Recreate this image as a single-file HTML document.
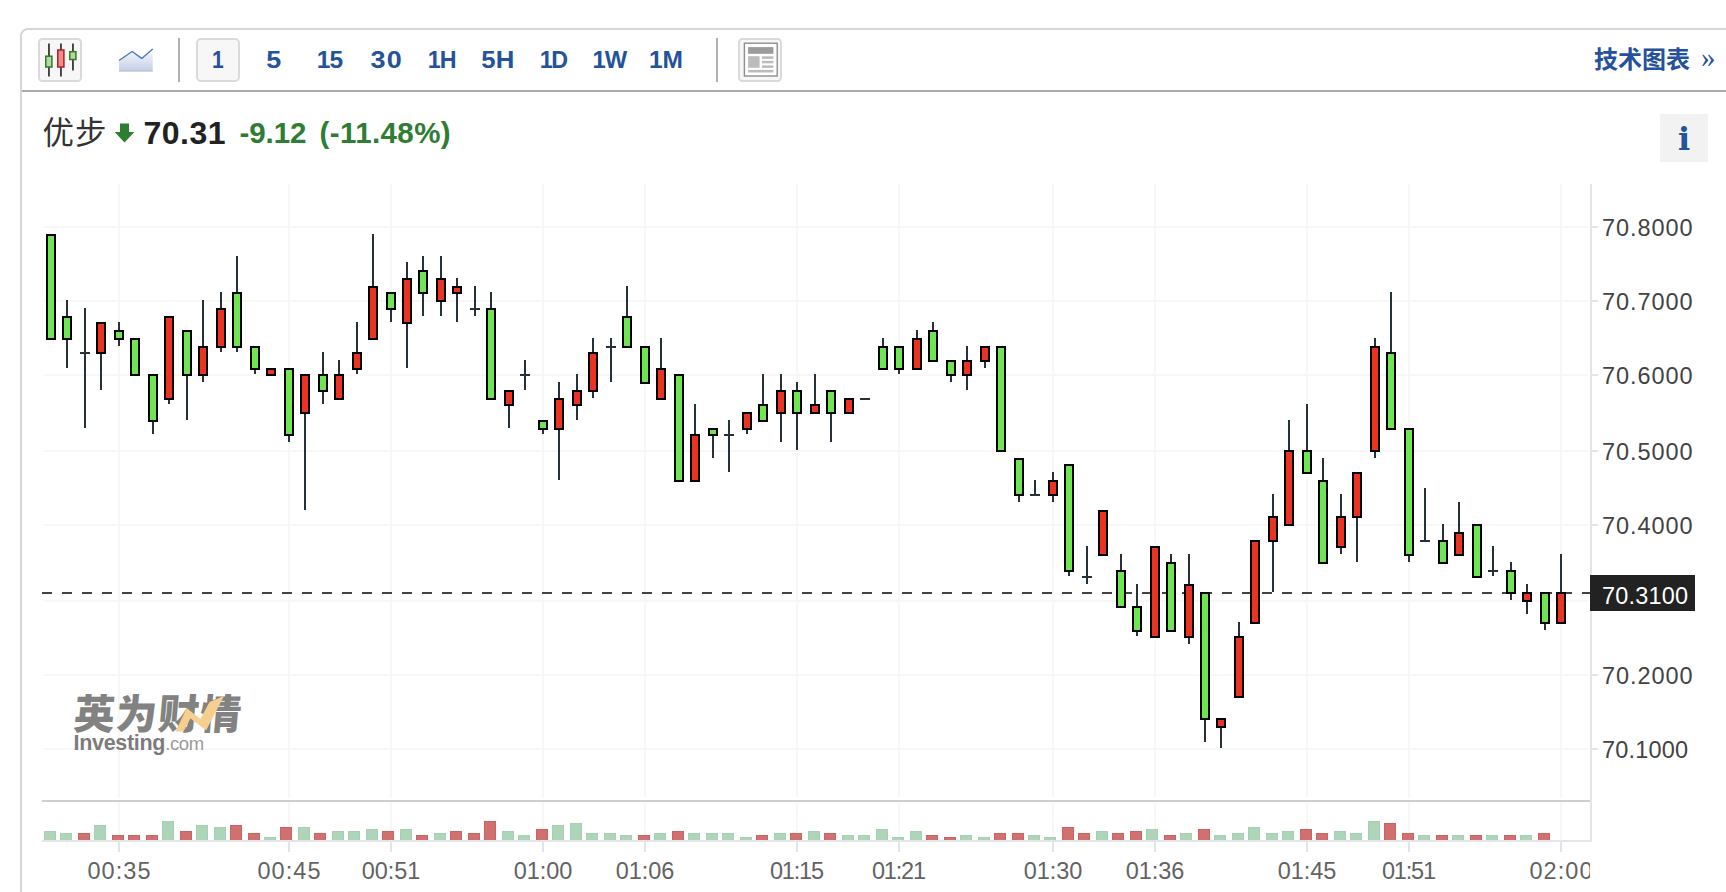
<!DOCTYPE html>
<html lang="zh-CN">
<head>
<meta charset="utf-8">
<title>优步 70.31</title>
<style>
html,body{margin:0;padding:0;background:#fff;}
body{width:1726px;height:892px;overflow:hidden;position:relative;font-family:"Liberation Sans","Noto Sans CJK SC",sans-serif;}
.frame{position:absolute;left:20px;top:28px;width:1800px;height:900px;border:2px solid #d6d6d6;border-radius:8px;box-sizing:border-box;}
.tline{position:absolute;left:22px;top:90px;width:1710px;height:2px;background:#a9a9a9;}
.btn{position:absolute;top:38px;width:44px;height:44px;box-sizing:border-box;border:2px solid #dadada;border-radius:4.5px;background:#f7f7f7;}
.vsep{position:absolute;top:38px;width:2px;height:44px;background:#b2b2b2;}
.tf{position:absolute;top:38px;width:44px;height:44px;line-height:43px;text-align:center;font-weight:bold;font-size:24.5px;color:#24529c;box-sizing:border-box;white-space:nowrap;}
.tf span{display:inline-block;}

.tf.on{border:2px solid #dadada;border-radius:5px;background:#f7f7f7;line-height:39px;}
.chart{position:absolute;left:0;top:0;}
.yl{position:absolute;left:1602px;height:30px;line-height:30px;font-size:23.5px;color:#434343;letter-spacing:0.95px;white-space:nowrap;}
.xl{position:absolute;top:856px;width:100px;height:30px;line-height:30px;text-align:center;font-size:23.5px;color:#636363;letter-spacing:1.1px;text-indent:1.1px;white-space:nowrap;}
.clip{position:absolute;left:0;top:0;width:1590px;height:892px;overflow:hidden;}
.plabel{position:absolute;left:1602px;top:581px;height:30px;line-height:30px;font-size:23.5px;color:#fff;letter-spacing:0.18px;white-space:nowrap;}
.hdr{position:absolute;left:42.5px;top:110.5px;height:44px;line-height:44px;white-space:nowrap;}
.hdr span{position:absolute;top:0;white-space:nowrap;}
.nm{left:0;font-size:31.5px;color:#333;letter-spacing:1px;}
.px{left:101px;font-size:32px;font-weight:bold;color:#222;letter-spacing:0.5px;}
.ch{left:197px;font-size:29.5px;font-weight:bold;color:#2f7d32;letter-spacing:-0.1px;}
.pc{left:277px;font-size:29.5px;font-weight:bold;color:#2f7d32;letter-spacing:0.4px;}
.tech{position:absolute;left:1594px;top:41px;height:40px;line-height:38px;font-size:24px;font-weight:bold;color:#24529c;white-space:nowrap;font-family:"Liberation Sans","Noto Sans CJK SC",sans-serif;}
.raq{position:absolute;left:1701px;top:37px;height:40px;line-height:40px;font-size:29px;color:#24529c;font-family:"Liberation Serif",serif;}
.info{position:absolute;left:1660px;top:114px;width:48px;height:48px;background:#f2f2f2;text-align:center;font-family:"DejaVu Serif","Liberation Serif",serif;font-weight:bold;font-size:32px;line-height:50px;color:#24529c;}
.wm{position:absolute;left:72px;top:685px;}
.wm1{position:absolute;left:0;top:0;font-family:"Noto Sans CJK SC","WenQuanYi Zen Hei",sans-serif;font-weight:900;font-size:41px;line-height:52px;color:#828282;white-space:nowrap;transform:skewX(-5deg);transform-origin:0 100%;letter-spacing:1.1px;}
.wm2{position:absolute;left:1.5px;top:43px;font-size:21.5px;line-height:30px;color:#7c7c7c;white-space:nowrap;letter-spacing:-0.3px;}
.wm2 b{font-weight:bold;}
.wm2 i{font-style:normal;font-weight:normal;color:#9a9a9a;letter-spacing:-0.4px;font-size:18.5px;}
</style>
</head>
<body>
<div class="frame"></div>
<div class="tline"></div>

<!-- toolbar -->
<div class="btn" style="left:38px"></div>
<svg style="position:absolute;left:38px;top:38px" width="44" height="44" viewBox="0 0 44 44">
  <g fill="#2e2e2e"><rect x="10.1" y="5.5" width="1.7" height="33"/><rect x="22.1" y="5.5" width="1.7" height="33"/><rect x="34.1" y="5.5" width="1.7" height="27"/></g>
  <rect x="7.8" y="18.2" width="6.1" height="10.8" fill="#b3d9a6" stroke="#2f7d1f" stroke-width="1.5"/>
  <rect x="19.8" y="12" width="6.1" height="17" fill="#f08c8c" stroke="#b02020" stroke-width="1.5"/>
  <rect x="31.8" y="13.7" width="6.1" height="7.8" fill="#b3d9a6" stroke="#2f7d1f" stroke-width="1.5"/>
</svg>
<svg style="position:absolute;left:116px;top:44px" width="40" height="30" viewBox="116 44 40 30">
  <defs><linearGradient id="ag" x1="0" y1="0" x2="0" y2="1"><stop offset="0" stop-color="#f9fafd"/><stop offset="1" stop-color="#c4d0eb"/></linearGradient></defs>
  <path d="M119 60.5 L132.2 51.5 L141.7 58.4 L152.7 49 L152.7 70.5 L119 70.5 Z" fill="url(#ag)"/>
  <rect x="119" y="70.2" width="33.7" height="1.4" fill="#b9bcc4"/>
  <path d="M119 60.5 L132.2 51.5 L141.7 58.4 L152.7 49" fill="none" stroke="#4c78ba" stroke-width="1.35" stroke-linejoin="round"/>
</svg>
<div class="vsep" style="left:178px"></div>
<div class="tf on" style="left:196px"><span style="transform:scaleX(0.86);letter-spacing:0px;margin-right:0px">1</span></div>
<div class="tf" style="left:252px"><span style="transform:scaleX(1.1);letter-spacing:0px;margin-right:0px">5</span></div>
<div class="tf" style="left:308px"><span style="transform:scaleX(1.0);letter-spacing:-1.0px;margin-right:1.0px">15</span></div>
<div class="tf" style="left:364px"><span style="transform:scaleX(1.1);letter-spacing:1.0px;margin-right:-1.0px">30</span></div>
<div class="tf" style="left:420px"><span style="transform:scaleX(0.95);letter-spacing:-1.0px;margin-right:1.0px">1H</span></div>
<div class="tf" style="left:476px"><span style="transform:scaleX(1.05);letter-spacing:0.3px;margin-right:-0.3px">5H</span></div>
<div class="tf" style="left:532px"><span style="transform:scaleX(0.95);letter-spacing:-1.4px;margin-right:1.4px">1D</span></div>
<div class="tf" style="left:588px"><span style="transform:scaleX(0.97);letter-spacing:-1.0px;margin-right:1.0px">1W</span></div>
<div class="tf" style="left:644px"><span style="transform:scaleX(1.0);letter-spacing:0px;margin-right:0px">1M</span></div>
<div class="vsep" style="left:716px"></div>
<div class="btn" style="left:738px"></div>
<svg style="position:absolute;left:738px;top:38px" width="44" height="44" viewBox="738 38 44 44">
  <rect x="744.4" y="43.2" width="32.8" height="32.8" fill="#fff" stroke="#8e8e8e" stroke-width="1.4"/>
  <rect x="748.1" y="47.1" width="25.3" height="6.7" fill="#9b9b9b"/>
  <rect x="748.1" y="56.2" width="11.5" height="11.6" fill="#bcbcbc"/>
  <g fill="#bcbcbc"><rect x="762" y="56.3" width="11.4" height="2.6"/><rect x="762" y="60.8" width="11.4" height="2.5"/><rect x="762" y="65.4" width="11.4" height="2.5"/><rect x="748.1" y="69.9" width="25.3" height="2.6"/></g>
</svg>
<div class="tech">技术图表</div>
<div class="raq">»</div>

<!-- header -->
<div class="hdr">
  <span class="nm">优步</span>
  <svg style="position:absolute;left:71.4px;top:12.4px" width="21" height="20" viewBox="0 0 21 20"><path d="M6 0.5 H15 V9 H20.4 L10.5 19.6 L0.6 9 H6 Z" fill="#2f7d32"/></svg>
  <span class="px">70.31</span>
  <span class="ch">-9.12</span>
  <span class="pc">(-11.48%)</span>
</div>
<div class="info">i</div>

<svg class="chart" width="1726" height="892" viewBox="0 0 1726 892" shape-rendering="crispEdges">
<g fill="#f7f7f8">
<rect x="44" y="226" width="1544" height="2"/>
<rect x="44" y="300" width="1544" height="2"/>
<rect x="44" y="374" width="1544" height="2"/>
<rect x="44" y="450" width="1544" height="2"/>
<rect x="44" y="524" width="1544" height="2"/>
<rect x="44" y="600" width="1544" height="2"/>
<rect x="44" y="674" width="1544" height="2"/>
<rect x="44" y="748" width="1544" height="2"/>
<rect x="118" y="184" width="2" height="614"/>
<rect x="118" y="802" width="2" height="38"/>
<rect x="288" y="184" width="2" height="614"/>
<rect x="288" y="802" width="2" height="38"/>
<rect x="390" y="184" width="2" height="614"/>
<rect x="390" y="802" width="2" height="38"/>
<rect x="542" y="184" width="2" height="614"/>
<rect x="542" y="802" width="2" height="38"/>
<rect x="644" y="184" width="2" height="614"/>
<rect x="644" y="802" width="2" height="38"/>
<rect x="796" y="184" width="2" height="614"/>
<rect x="796" y="802" width="2" height="38"/>
<rect x="898" y="184" width="2" height="614"/>
<rect x="898" y="802" width="2" height="38"/>
<rect x="1052" y="184" width="2" height="614"/>
<rect x="1052" y="802" width="2" height="38"/>
<rect x="1154" y="184" width="2" height="614"/>
<rect x="1154" y="802" width="2" height="38"/>
<rect x="1306" y="184" width="2" height="614"/>
<rect x="1306" y="802" width="2" height="38"/>
<rect x="1408" y="184" width="2" height="614"/>
<rect x="1408" y="802" width="2" height="38"/>
<rect x="1560" y="184" width="2" height="614"/>
<rect x="1560" y="802" width="2" height="38"/>
</g>
<g>
<rect x="44" y="831" width="12" height="9" fill="#a6d1b1"/>
<rect x="45" y="832" width="10" height="8" fill="#aed5b8"/>
<rect x="60" y="833" width="12" height="7" fill="#a6d1b1"/>
<rect x="61" y="834" width="10" height="6" fill="#aed5b8"/>
<rect x="78" y="833" width="12" height="7" fill="#cd6361"/>
<rect x="79" y="834" width="10" height="6" fill="#d1716f"/>
<rect x="94" y="825" width="12" height="15" fill="#a6d1b1"/>
<rect x="95" y="826" width="10" height="14" fill="#aed5b8"/>
<rect x="112" y="835" width="12" height="5" fill="#cd6361"/>
<rect x="113" y="836" width="10" height="4" fill="#d1716f"/>
<rect x="128" y="835" width="12" height="5" fill="#cd6361"/>
<rect x="129" y="836" width="10" height="4" fill="#d1716f"/>
<rect x="146" y="835" width="12" height="5" fill="#cd6361"/>
<rect x="147" y="836" width="10" height="4" fill="#d1716f"/>
<rect x="162" y="821" width="12" height="19" fill="#a6d1b1"/>
<rect x="163" y="822" width="10" height="18" fill="#aed5b8"/>
<rect x="180" y="831" width="12" height="9" fill="#cd6361"/>
<rect x="181" y="832" width="10" height="8" fill="#d1716f"/>
<rect x="196" y="825" width="12" height="15" fill="#a6d1b1"/>
<rect x="197" y="826" width="10" height="14" fill="#aed5b8"/>
<rect x="214" y="827" width="12" height="13" fill="#a6d1b1"/>
<rect x="215" y="828" width="10" height="12" fill="#aed5b8"/>
<rect x="230" y="825" width="12" height="15" fill="#cd6361"/>
<rect x="231" y="826" width="10" height="14" fill="#d1716f"/>
<rect x="248" y="833" width="12" height="7" fill="#cd6361"/>
<rect x="249" y="834" width="10" height="6" fill="#d1716f"/>
<rect x="264" y="837" width="12" height="3" fill="#a6d1b1"/>
<rect x="265" y="838" width="10" height="2" fill="#aed5b8"/>
<rect x="280" y="827" width="12" height="13" fill="#cd6361"/>
<rect x="281" y="828" width="10" height="12" fill="#d1716f"/>
<rect x="298" y="827" width="12" height="13" fill="#a6d1b1"/>
<rect x="299" y="828" width="10" height="12" fill="#aed5b8"/>
<rect x="314" y="833" width="12" height="7" fill="#cd6361"/>
<rect x="315" y="834" width="10" height="6" fill="#d1716f"/>
<rect x="332" y="831" width="12" height="9" fill="#a6d1b1"/>
<rect x="333" y="832" width="10" height="8" fill="#aed5b8"/>
<rect x="348" y="831" width="12" height="9" fill="#a6d1b1"/>
<rect x="349" y="832" width="10" height="8" fill="#aed5b8"/>
<rect x="366" y="829" width="12" height="11" fill="#a6d1b1"/>
<rect x="367" y="830" width="10" height="10" fill="#aed5b8"/>
<rect x="382" y="831" width="12" height="9" fill="#cd6361"/>
<rect x="383" y="832" width="10" height="8" fill="#d1716f"/>
<rect x="400" y="829" width="12" height="11" fill="#a6d1b1"/>
<rect x="401" y="830" width="10" height="10" fill="#aed5b8"/>
<rect x="416" y="835" width="12" height="5" fill="#cd6361"/>
<rect x="417" y="836" width="10" height="4" fill="#d1716f"/>
<rect x="434" y="833" width="12" height="7" fill="#a6d1b1"/>
<rect x="435" y="834" width="10" height="6" fill="#aed5b8"/>
<rect x="450" y="831" width="12" height="9" fill="#cd6361"/>
<rect x="451" y="832" width="10" height="8" fill="#d1716f"/>
<rect x="468" y="833" width="12" height="7" fill="#cd6361"/>
<rect x="469" y="834" width="10" height="6" fill="#d1716f"/>
<rect x="484" y="821" width="12" height="19" fill="#cd6361"/>
<rect x="485" y="822" width="10" height="18" fill="#d1716f"/>
<rect x="502" y="831" width="12" height="9" fill="#a6d1b1"/>
<rect x="503" y="832" width="10" height="8" fill="#aed5b8"/>
<rect x="518" y="835" width="12" height="5" fill="#a6d1b1"/>
<rect x="519" y="836" width="10" height="4" fill="#aed5b8"/>
<rect x="536" y="829" width="12" height="11" fill="#cd6361"/>
<rect x="537" y="830" width="10" height="10" fill="#d1716f"/>
<rect x="552" y="825" width="12" height="15" fill="#a6d1b1"/>
<rect x="553" y="826" width="10" height="14" fill="#aed5b8"/>
<rect x="570" y="823" width="12" height="17" fill="#a6d1b1"/>
<rect x="571" y="824" width="10" height="16" fill="#aed5b8"/>
<rect x="586" y="833" width="12" height="7" fill="#a6d1b1"/>
<rect x="587" y="834" width="10" height="6" fill="#aed5b8"/>
<rect x="604" y="833" width="12" height="7" fill="#a6d1b1"/>
<rect x="605" y="834" width="10" height="6" fill="#aed5b8"/>
<rect x="620" y="835" width="12" height="5" fill="#a6d1b1"/>
<rect x="621" y="836" width="10" height="4" fill="#aed5b8"/>
<rect x="638" y="835" width="12" height="5" fill="#cd6361"/>
<rect x="639" y="836" width="10" height="4" fill="#d1716f"/>
<rect x="654" y="833" width="12" height="7" fill="#a6d1b1"/>
<rect x="655" y="834" width="10" height="6" fill="#aed5b8"/>
<rect x="672" y="831" width="12" height="9" fill="#cd6361"/>
<rect x="673" y="832" width="10" height="8" fill="#d1716f"/>
<rect x="688" y="833" width="12" height="7" fill="#a6d1b1"/>
<rect x="689" y="834" width="10" height="6" fill="#aed5b8"/>
<rect x="706" y="833" width="12" height="7" fill="#a6d1b1"/>
<rect x="707" y="834" width="10" height="6" fill="#aed5b8"/>
<rect x="722" y="833" width="12" height="7" fill="#a6d1b1"/>
<rect x="723" y="834" width="10" height="6" fill="#aed5b8"/>
<rect x="740" y="837" width="12" height="3" fill="#a6d1b1"/>
<rect x="741" y="838" width="10" height="2" fill="#aed5b8"/>
<rect x="756" y="835" width="12" height="5" fill="#cd6361"/>
<rect x="757" y="836" width="10" height="4" fill="#d1716f"/>
<rect x="774" y="833" width="12" height="7" fill="#a6d1b1"/>
<rect x="775" y="834" width="10" height="6" fill="#aed5b8"/>
<rect x="790" y="833" width="12" height="7" fill="#cd6361"/>
<rect x="791" y="834" width="10" height="6" fill="#d1716f"/>
<rect x="808" y="831" width="12" height="9" fill="#a6d1b1"/>
<rect x="809" y="832" width="10" height="8" fill="#aed5b8"/>
<rect x="824" y="833" width="12" height="7" fill="#cd6361"/>
<rect x="825" y="834" width="10" height="6" fill="#d1716f"/>
<rect x="842" y="835" width="12" height="5" fill="#a6d1b1"/>
<rect x="843" y="836" width="10" height="4" fill="#aed5b8"/>
<rect x="858" y="835" width="12" height="5" fill="#a6d1b1"/>
<rect x="859" y="836" width="10" height="4" fill="#aed5b8"/>
<rect x="876" y="829" width="12" height="11" fill="#a6d1b1"/>
<rect x="877" y="830" width="10" height="10" fill="#aed5b8"/>
<rect x="892" y="837" width="12" height="3" fill="#a6d1b1"/>
<rect x="893" y="838" width="10" height="2" fill="#aed5b8"/>
<rect x="910" y="831" width="12" height="9" fill="#a6d1b1"/>
<rect x="911" y="832" width="10" height="8" fill="#aed5b8"/>
<rect x="926" y="835" width="12" height="5" fill="#cd6361"/>
<rect x="927" y="836" width="10" height="4" fill="#d1716f"/>
<rect x="944" y="837" width="12" height="3" fill="#cd6361"/>
<rect x="945" y="838" width="10" height="2" fill="#d1716f"/>
<rect x="960" y="835" width="12" height="5" fill="#a6d1b1"/>
<rect x="961" y="836" width="10" height="4" fill="#aed5b8"/>
<rect x="978" y="837" width="12" height="3" fill="#a6d1b1"/>
<rect x="979" y="838" width="10" height="2" fill="#aed5b8"/>
<rect x="994" y="833" width="12" height="7" fill="#cd6361"/>
<rect x="995" y="834" width="10" height="6" fill="#d1716f"/>
<rect x="1012" y="833" width="12" height="7" fill="#cd6361"/>
<rect x="1013" y="834" width="10" height="6" fill="#d1716f"/>
<rect x="1028" y="835" width="12" height="5" fill="#a6d1b1"/>
<rect x="1029" y="836" width="10" height="4" fill="#aed5b8"/>
<rect x="1044" y="837" width="12" height="3" fill="#a6d1b1"/>
<rect x="1045" y="838" width="10" height="2" fill="#aed5b8"/>
<rect x="1062" y="827" width="12" height="13" fill="#cd6361"/>
<rect x="1063" y="828" width="10" height="12" fill="#d1716f"/>
<rect x="1078" y="833" width="12" height="7" fill="#cd6361"/>
<rect x="1079" y="834" width="10" height="6" fill="#d1716f"/>
<rect x="1096" y="831" width="12" height="9" fill="#a6d1b1"/>
<rect x="1097" y="832" width="10" height="8" fill="#aed5b8"/>
<rect x="1112" y="833" width="12" height="7" fill="#cd6361"/>
<rect x="1113" y="834" width="10" height="6" fill="#d1716f"/>
<rect x="1130" y="831" width="12" height="9" fill="#cd6361"/>
<rect x="1131" y="832" width="10" height="8" fill="#d1716f"/>
<rect x="1146" y="829" width="12" height="11" fill="#a6d1b1"/>
<rect x="1147" y="830" width="10" height="10" fill="#aed5b8"/>
<rect x="1164" y="835" width="12" height="5" fill="#cd6361"/>
<rect x="1165" y="836" width="10" height="4" fill="#d1716f"/>
<rect x="1180" y="833" width="12" height="7" fill="#a6d1b1"/>
<rect x="1181" y="834" width="10" height="6" fill="#aed5b8"/>
<rect x="1198" y="829" width="12" height="11" fill="#cd6361"/>
<rect x="1199" y="830" width="10" height="10" fill="#d1716f"/>
<rect x="1214" y="835" width="12" height="5" fill="#a6d1b1"/>
<rect x="1215" y="836" width="10" height="4" fill="#aed5b8"/>
<rect x="1232" y="833" width="12" height="7" fill="#a6d1b1"/>
<rect x="1233" y="834" width="10" height="6" fill="#aed5b8"/>
<rect x="1248" y="827" width="12" height="13" fill="#a6d1b1"/>
<rect x="1249" y="828" width="10" height="12" fill="#aed5b8"/>
<rect x="1266" y="833" width="12" height="7" fill="#a6d1b1"/>
<rect x="1267" y="834" width="10" height="6" fill="#aed5b8"/>
<rect x="1282" y="831" width="12" height="9" fill="#a6d1b1"/>
<rect x="1283" y="832" width="10" height="8" fill="#aed5b8"/>
<rect x="1300" y="829" width="12" height="11" fill="#cd6361"/>
<rect x="1301" y="830" width="10" height="10" fill="#d1716f"/>
<rect x="1316" y="833" width="12" height="7" fill="#cd6361"/>
<rect x="1317" y="834" width="10" height="6" fill="#d1716f"/>
<rect x="1334" y="831" width="12" height="9" fill="#a6d1b1"/>
<rect x="1335" y="832" width="10" height="8" fill="#aed5b8"/>
<rect x="1350" y="833" width="12" height="7" fill="#a6d1b1"/>
<rect x="1351" y="834" width="10" height="6" fill="#aed5b8"/>
<rect x="1368" y="821" width="12" height="19" fill="#a6d1b1"/>
<rect x="1369" y="822" width="10" height="18" fill="#aed5b8"/>
<rect x="1384" y="823" width="12" height="17" fill="#cd6361"/>
<rect x="1385" y="824" width="10" height="16" fill="#d1716f"/>
<rect x="1402" y="833" width="12" height="7" fill="#cd6361"/>
<rect x="1403" y="834" width="10" height="6" fill="#d1716f"/>
<rect x="1418" y="835" width="12" height="5" fill="#a6d1b1"/>
<rect x="1419" y="836" width="10" height="4" fill="#aed5b8"/>
<rect x="1436" y="835" width="12" height="5" fill="#cd6361"/>
<rect x="1437" y="836" width="10" height="4" fill="#d1716f"/>
<rect x="1452" y="835" width="12" height="5" fill="#a6d1b1"/>
<rect x="1453" y="836" width="10" height="4" fill="#aed5b8"/>
<rect x="1470" y="835" width="12" height="5" fill="#cd6361"/>
<rect x="1471" y="836" width="10" height="4" fill="#d1716f"/>
<rect x="1486" y="835" width="12" height="5" fill="#a6d1b1"/>
<rect x="1487" y="836" width="10" height="4" fill="#aed5b8"/>
<rect x="1504" y="835" width="12" height="5" fill="#cd6361"/>
<rect x="1505" y="836" width="10" height="4" fill="#d1716f"/>
<rect x="1520" y="835" width="12" height="5" fill="#a6d1b1"/>
<rect x="1521" y="836" width="10" height="4" fill="#aed5b8"/>
<rect x="1538" y="833" width="12" height="7" fill="#cd6361"/>
<rect x="1539" y="834" width="10" height="6" fill="#d1716f"/>
</g>
<rect x="42" y="800" width="1550" height="2" fill="#cfcfcf"/>
<g fill="#e2e5ea">
<rect x="42" y="840" width="1550" height="2"/>
<rect x="1590" y="184" width="2" height="658"/>
<rect x="1592" y="226" width="6" height="2"/>
<rect x="1592" y="300" width="6" height="2"/>
<rect x="1592" y="374" width="6" height="2"/>
<rect x="1592" y="450" width="6" height="2"/>
<rect x="1592" y="524" width="6" height="2"/>
<rect x="1592" y="600" width="6" height="2"/>
<rect x="1592" y="674" width="6" height="2"/>
<rect x="1592" y="748" width="6" height="2"/>
<rect x="118" y="842" width="2" height="10"/>
<rect x="288" y="842" width="2" height="10"/>
<rect x="390" y="842" width="2" height="10"/>
<rect x="542" y="842" width="2" height="10"/>
<rect x="644" y="842" width="2" height="10"/>
<rect x="796" y="842" width="2" height="10"/>
<rect x="898" y="842" width="2" height="10"/>
<rect x="1052" y="842" width="2" height="10"/>
<rect x="1154" y="842" width="2" height="10"/>
<rect x="1306" y="842" width="2" height="10"/>
<rect x="1408" y="842" width="2" height="10"/>
<rect x="1560" y="842" width="2" height="10"/>
</g>
<g fill="#444">
<rect x="42" y="592" width="10" height="2"/>
<rect x="62" y="592" width="10" height="2"/>
<rect x="82" y="592" width="10" height="2"/>
<rect x="102" y="592" width="10" height="2"/>
<rect x="122" y="592" width="10" height="2"/>
<rect x="142" y="592" width="10" height="2"/>
<rect x="162" y="592" width="10" height="2"/>
<rect x="182" y="592" width="10" height="2"/>
<rect x="202" y="592" width="10" height="2"/>
<rect x="222" y="592" width="10" height="2"/>
<rect x="242" y="592" width="10" height="2"/>
<rect x="262" y="592" width="10" height="2"/>
<rect x="282" y="592" width="10" height="2"/>
<rect x="302" y="592" width="10" height="2"/>
<rect x="322" y="592" width="10" height="2"/>
<rect x="342" y="592" width="10" height="2"/>
<rect x="362" y="592" width="10" height="2"/>
<rect x="382" y="592" width="10" height="2"/>
<rect x="402" y="592" width="10" height="2"/>
<rect x="422" y="592" width="10" height="2"/>
<rect x="442" y="592" width="10" height="2"/>
<rect x="462" y="592" width="10" height="2"/>
<rect x="482" y="592" width="10" height="2"/>
<rect x="502" y="592" width="10" height="2"/>
<rect x="522" y="592" width="10" height="2"/>
<rect x="542" y="592" width="10" height="2"/>
<rect x="562" y="592" width="10" height="2"/>
<rect x="582" y="592" width="10" height="2"/>
<rect x="602" y="592" width="10" height="2"/>
<rect x="622" y="592" width="10" height="2"/>
<rect x="642" y="592" width="10" height="2"/>
<rect x="662" y="592" width="10" height="2"/>
<rect x="682" y="592" width="10" height="2"/>
<rect x="702" y="592" width="10" height="2"/>
<rect x="722" y="592" width="10" height="2"/>
<rect x="742" y="592" width="10" height="2"/>
<rect x="762" y="592" width="10" height="2"/>
<rect x="782" y="592" width="10" height="2"/>
<rect x="802" y="592" width="10" height="2"/>
<rect x="822" y="592" width="10" height="2"/>
<rect x="842" y="592" width="10" height="2"/>
<rect x="862" y="592" width="10" height="2"/>
<rect x="882" y="592" width="10" height="2"/>
<rect x="902" y="592" width="10" height="2"/>
<rect x="922" y="592" width="10" height="2"/>
<rect x="942" y="592" width="10" height="2"/>
<rect x="962" y="592" width="10" height="2"/>
<rect x="982" y="592" width="10" height="2"/>
<rect x="1002" y="592" width="10" height="2"/>
<rect x="1022" y="592" width="10" height="2"/>
<rect x="1042" y="592" width="10" height="2"/>
<rect x="1062" y="592" width="10" height="2"/>
<rect x="1082" y="592" width="10" height="2"/>
<rect x="1102" y="592" width="10" height="2"/>
<rect x="1122" y="592" width="10" height="2"/>
<rect x="1142" y="592" width="10" height="2"/>
<rect x="1162" y="592" width="10" height="2"/>
<rect x="1182" y="592" width="10" height="2"/>
<rect x="1202" y="592" width="10" height="2"/>
<rect x="1222" y="592" width="10" height="2"/>
<rect x="1242" y="592" width="10" height="2"/>
<rect x="1262" y="592" width="10" height="2"/>
<rect x="1282" y="592" width="10" height="2"/>
<rect x="1302" y="592" width="10" height="2"/>
<rect x="1322" y="592" width="10" height="2"/>
<rect x="1342" y="592" width="10" height="2"/>
<rect x="1362" y="592" width="10" height="2"/>
<rect x="1382" y="592" width="10" height="2"/>
<rect x="1402" y="592" width="10" height="2"/>
<rect x="1422" y="592" width="10" height="2"/>
<rect x="1442" y="592" width="10" height="2"/>
<rect x="1462" y="592" width="10" height="2"/>
<rect x="1482" y="592" width="10" height="2"/>
<rect x="1502" y="592" width="10" height="2"/>
<rect x="1522" y="592" width="10" height="2"/>
<rect x="1542" y="592" width="10" height="2"/>
<rect x="1562" y="592" width="10" height="2"/>
<rect x="1582" y="592" width="8" height="2"/>
</g>
<g fill="#263238">
<rect x="66" y="300" width="2" height="68"/>
<rect x="84" y="308" width="2" height="120"/>
<rect x="80" y="352" width="10" height="2"/>
<rect x="100" y="322" width="2" height="68"/>
<rect x="118" y="322" width="2" height="24"/>
<rect x="152" y="374" width="2" height="60"/>
<rect x="168" y="316" width="2" height="88"/>
<rect x="186" y="330" width="2" height="90"/>
<rect x="202" y="300" width="2" height="82"/>
<rect x="220" y="292" width="2" height="60"/>
<rect x="236" y="256" width="2" height="96"/>
<rect x="254" y="346" width="2" height="28"/>
<rect x="288" y="368" width="2" height="74"/>
<rect x="304" y="374" width="2" height="136"/>
<rect x="322" y="352" width="2" height="52"/>
<rect x="338" y="360" width="2" height="40"/>
<rect x="356" y="322" width="2" height="52"/>
<rect x="372" y="234" width="2" height="106"/>
<rect x="390" y="292" width="2" height="30"/>
<rect x="406" y="262" width="2" height="106"/>
<rect x="422" y="256" width="2" height="60"/>
<rect x="440" y="256" width="2" height="60"/>
<rect x="456" y="278" width="2" height="44"/>
<rect x="474" y="286" width="2" height="30"/>
<rect x="470" y="308" width="10" height="2"/>
<rect x="490" y="292" width="2" height="108"/>
<rect x="508" y="390" width="2" height="38"/>
<rect x="524" y="360" width="2" height="30"/>
<rect x="520" y="374" width="10" height="2"/>
<rect x="542" y="420" width="2" height="14"/>
<rect x="558" y="382" width="2" height="98"/>
<rect x="576" y="374" width="2" height="46"/>
<rect x="592" y="338" width="2" height="60"/>
<rect x="610" y="338" width="2" height="44"/>
<rect x="606" y="346" width="10" height="2"/>
<rect x="626" y="286" width="2" height="62"/>
<rect x="660" y="338" width="2" height="62"/>
<rect x="694" y="404" width="2" height="78"/>
<rect x="712" y="428" width="2" height="30"/>
<rect x="728" y="420" width="2" height="52"/>
<rect x="724" y="434" width="10" height="2"/>
<rect x="746" y="412" width="2" height="22"/>
<rect x="762" y="374" width="2" height="48"/>
<rect x="780" y="374" width="2" height="68"/>
<rect x="796" y="382" width="2" height="68"/>
<rect x="814" y="374" width="2" height="40"/>
<rect x="830" y="390" width="2" height="52"/>
<rect x="860" y="398" width="10" height="2"/>
<rect x="882" y="338" width="2" height="32"/>
<rect x="898" y="346" width="2" height="28"/>
<rect x="916" y="330" width="2" height="40"/>
<rect x="932" y="322" width="2" height="40"/>
<rect x="950" y="360" width="2" height="22"/>
<rect x="966" y="346" width="2" height="44"/>
<rect x="984" y="346" width="2" height="22"/>
<rect x="1018" y="458" width="2" height="44"/>
<rect x="1034" y="480" width="2" height="16"/>
<rect x="1030" y="494" width="10" height="2"/>
<rect x="1052" y="472" width="2" height="30"/>
<rect x="1068" y="464" width="2" height="112"/>
<rect x="1086" y="546" width="2" height="38"/>
<rect x="1082" y="576" width="10" height="2"/>
<rect x="1120" y="554" width="2" height="54"/>
<rect x="1136" y="584" width="2" height="52"/>
<rect x="1170" y="554" width="2" height="78"/>
<rect x="1188" y="554" width="2" height="90"/>
<rect x="1204" y="592" width="2" height="150"/>
<rect x="1220" y="718" width="2" height="30"/>
<rect x="1238" y="622" width="2" height="76"/>
<rect x="1272" y="494" width="2" height="98"/>
<rect x="1288" y="420" width="2" height="106"/>
<rect x="1306" y="404" width="2" height="70"/>
<rect x="1322" y="458" width="2" height="106"/>
<rect x="1340" y="494" width="2" height="60"/>
<rect x="1356" y="472" width="2" height="90"/>
<rect x="1374" y="338" width="2" height="120"/>
<rect x="1390" y="292" width="2" height="138"/>
<rect x="1408" y="428" width="2" height="134"/>
<rect x="1424" y="488" width="2" height="54"/>
<rect x="1420" y="540" width="10" height="2"/>
<rect x="1442" y="524" width="2" height="40"/>
<rect x="1458" y="502" width="2" height="54"/>
<rect x="1492" y="546" width="2" height="30"/>
<rect x="1488" y="570" width="10" height="2"/>
<rect x="1510" y="562" width="2" height="38"/>
<rect x="1526" y="584" width="2" height="30"/>
<rect x="1544" y="592" width="2" height="38"/>
<rect x="1560" y="554" width="2" height="70"/>
</g>
<g stroke="#000" stroke-width="2">
<rect x="47" y="235" width="8" height="104" fill="#6fe651"/>
<rect x="63" y="317" width="8" height="22" fill="#6fe651"/>
<rect x="97" y="323" width="8" height="30" fill="#ea3323"/>
<rect x="115" y="331" width="8" height="8" fill="#6fe651"/>
<rect x="131" y="339" width="8" height="36" fill="#6fe651"/>
<rect x="149" y="375" width="8" height="46" fill="#6fe651"/>
<rect x="165" y="317" width="8" height="82" fill="#ea3323"/>
<rect x="183" y="331" width="8" height="44" fill="#6fe651"/>
<rect x="199" y="347" width="8" height="28" fill="#ea3323"/>
<rect x="217" y="309" width="8" height="38" fill="#ea3323"/>
<rect x="233" y="293" width="8" height="54" fill="#6fe651"/>
<rect x="251" y="347" width="8" height="22" fill="#6fe651"/>
<rect x="267" y="369" width="8" height="6" fill="#ea3323"/>
<rect x="285" y="369" width="8" height="66" fill="#6fe651"/>
<rect x="301" y="375" width="8" height="38" fill="#ea3323"/>
<rect x="319" y="375" width="8" height="16" fill="#6fe651"/>
<rect x="335" y="375" width="8" height="24" fill="#ea3323"/>
<rect x="353" y="353" width="8" height="16" fill="#ea3323"/>
<rect x="369" y="287" width="8" height="52" fill="#ea3323"/>
<rect x="387" y="293" width="8" height="16" fill="#6fe651"/>
<rect x="403" y="279" width="8" height="44" fill="#ea3323"/>
<rect x="419" y="271" width="8" height="22" fill="#6fe651"/>
<rect x="437" y="279" width="8" height="22" fill="#ea3323"/>
<rect x="453" y="287" width="8" height="6" fill="#ea3323"/>
<rect x="487" y="309" width="8" height="90" fill="#6fe651"/>
<rect x="505" y="391" width="8" height="14" fill="#ea3323"/>
<rect x="539" y="421" width="8" height="8" fill="#6fe651"/>
<rect x="555" y="399" width="8" height="30" fill="#ea3323"/>
<rect x="573" y="391" width="8" height="14" fill="#ea3323"/>
<rect x="589" y="353" width="8" height="38" fill="#ea3323"/>
<rect x="623" y="317" width="8" height="30" fill="#6fe651"/>
<rect x="641" y="347" width="8" height="36" fill="#6fe651"/>
<rect x="657" y="369" width="8" height="30" fill="#ea3323"/>
<rect x="675" y="375" width="8" height="106" fill="#6fe651"/>
<rect x="691" y="435" width="8" height="46" fill="#ea3323"/>
<rect x="709" y="429" width="8" height="6" fill="#6fe651"/>
<rect x="743" y="413" width="8" height="16" fill="#ea3323"/>
<rect x="759" y="405" width="8" height="16" fill="#6fe651"/>
<rect x="777" y="391" width="8" height="22" fill="#ea3323"/>
<rect x="793" y="391" width="8" height="22" fill="#6fe651"/>
<rect x="811" y="405" width="8" height="8" fill="#ea3323"/>
<rect x="827" y="391" width="8" height="22" fill="#6fe651"/>
<rect x="845" y="399" width="8" height="14" fill="#ea3323"/>
<rect x="879" y="347" width="8" height="22" fill="#6fe651"/>
<rect x="895" y="347" width="8" height="22" fill="#6fe651"/>
<rect x="913" y="339" width="8" height="30" fill="#ea3323"/>
<rect x="929" y="331" width="8" height="30" fill="#6fe651"/>
<rect x="947" y="361" width="8" height="14" fill="#6fe651"/>
<rect x="963" y="361" width="8" height="14" fill="#ea3323"/>
<rect x="981" y="347" width="8" height="14" fill="#ea3323"/>
<rect x="997" y="347" width="8" height="104" fill="#6fe651"/>
<rect x="1015" y="459" width="8" height="36" fill="#6fe651"/>
<rect x="1049" y="481" width="8" height="14" fill="#ea3323"/>
<rect x="1065" y="465" width="8" height="106" fill="#6fe651"/>
<rect x="1099" y="511" width="8" height="44" fill="#ea3323"/>
<rect x="1117" y="571" width="8" height="36" fill="#6fe651"/>
<rect x="1133" y="607" width="8" height="24" fill="#6fe651"/>
<rect x="1151" y="547" width="8" height="90" fill="#ea3323"/>
<rect x="1167" y="563" width="8" height="68" fill="#6fe651"/>
<rect x="1185" y="585" width="8" height="52" fill="#ea3323"/>
<rect x="1201" y="593" width="8" height="126" fill="#6fe651"/>
<rect x="1217" y="719" width="8" height="8" fill="#ea3323"/>
<rect x="1235" y="637" width="8" height="60" fill="#ea3323"/>
<rect x="1251" y="541" width="8" height="82" fill="#ea3323"/>
<rect x="1269" y="517" width="8" height="24" fill="#ea3323"/>
<rect x="1285" y="451" width="8" height="74" fill="#ea3323"/>
<rect x="1303" y="451" width="8" height="22" fill="#6fe651"/>
<rect x="1319" y="481" width="8" height="82" fill="#6fe651"/>
<rect x="1337" y="517" width="8" height="30" fill="#ea3323"/>
<rect x="1353" y="473" width="8" height="44" fill="#ea3323"/>
<rect x="1371" y="347" width="8" height="104" fill="#ea3323"/>
<rect x="1387" y="353" width="8" height="76" fill="#6fe651"/>
<rect x="1405" y="429" width="8" height="126" fill="#6fe651"/>
<rect x="1439" y="541" width="8" height="22" fill="#6fe651"/>
<rect x="1455" y="533" width="8" height="22" fill="#ea3323"/>
<rect x="1473" y="525" width="8" height="52" fill="#6fe651"/>
<rect x="1507" y="571" width="8" height="22" fill="#6fe651"/>
<rect x="1523" y="593" width="8" height="8" fill="#ea3323"/>
<rect x="1541" y="593" width="8" height="30" fill="#6fe651"/>
<rect x="1557" y="593" width="8" height="30" fill="#ea3323"/>
</g>
<rect x="1590" y="575" width="105" height="36" fill="#222"/>
</svg>
<!-- watermark -->
<div class="wm">
  <div class="wm1">英为财情</div>
  <div class="wm2"><b>Investing</b><i>.com</i></div>
</div>
<svg style="position:absolute;left:170px;top:690px" width="60" height="46" viewBox="170 690 60 46"><path d="M175.6 731.4 L186.7 707.9 L200.4 719.1 L209.5 702.1 L224 696.1 L206.2 730.2 L190.4 718.6 L183.6 731.4 Z" fill="#f6cf8f"/></svg>
<div class="clip">

</div>
<div class="clip">
<div class="xl" style="left:69px;letter-spacing:1.1px;text-indent:1.1px">00:35</div>
<div class="xl" style="left:239px;letter-spacing:1.1px;text-indent:1.1px">00:45</div>
<div class="xl" style="left:341px;letter-spacing:-0.05px;text-indent:-0.05px">00:51</div>
<div class="xl" style="left:493px;letter-spacing:-0.05px;text-indent:-0.05px">01:00</div>
<div class="xl" style="left:595px;letter-spacing:-0.05px;text-indent:-0.05px">01:06</div>
<div class="xl" style="left:747px;letter-spacing:-1.2px;text-indent:-1.2px">01:15</div>
<div class="xl" style="left:849px;letter-spacing:-1.2px;text-indent:-1.2px">01:21</div>
<div class="xl" style="left:1003px;letter-spacing:-0.05px;text-indent:-0.05px">01:30</div>
<div class="xl" style="left:1105px;letter-spacing:-0.05px;text-indent:-0.05px">01:36</div>
<div class="xl" style="left:1257px;letter-spacing:-0.05px;text-indent:-0.05px">01:45</div>
<div class="xl" style="left:1359px;letter-spacing:-1.2px;text-indent:-1.2px">01:51</div>
<div class="xl" style="left:1511px;letter-spacing:1.1px;text-indent:1.1px">02:00</div>
</div>
<div class="yl" style="top:213px;letter-spacing:0.95px">70.8000</div>
<div class="yl" style="top:287px;letter-spacing:0.95px">70.7000</div>
<div class="yl" style="top:361px;letter-spacing:0.95px">70.6000</div>
<div class="yl" style="top:437px;letter-spacing:0.95px">70.5000</div>
<div class="yl" style="top:511px;letter-spacing:0.95px">70.4000</div>
<div class="yl" style="top:661px;letter-spacing:0.95px">70.2000</div>
<div class="yl" style="top:735px;letter-spacing:0.18px">70.1000</div>
<div class="plabel">70.3100</div>
</body>
</html>
